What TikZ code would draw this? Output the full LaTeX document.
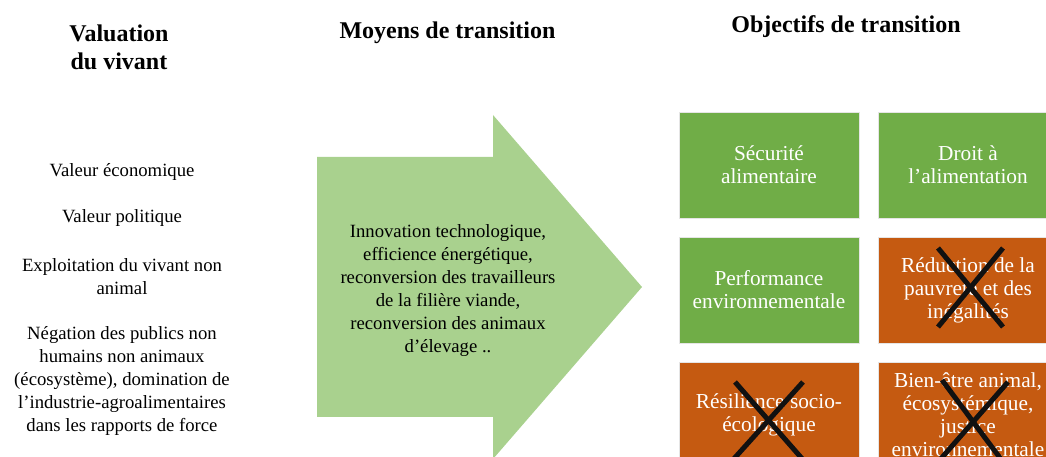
\documentclass[tikz,border=0pt]{standalone}
\usepackage{fontspec}
\setmainfont{Liberation Serif}
\definecolor{boxgreen}{HTML}{70AD47}
\definecolor{boxorange}{HTML}{C55A11}
\definecolor{arrowgreen}{HTML}{A9D18E}
\definecolor{crossink}{HTML}{111111}
\tikzset{
  heading/.style={inner sep=0pt, align=center, font=\fontsize{24bp}{28bp}\selectfont\bfseries},
  plain/.style={inner sep=0pt, align=center, font=\fontsize{18.7bp}{23bp}\selectfont},
  goal/.style={minimum width=180bp, minimum height=106bp, inner sep=0pt, align=center,
    text=white, draw=white!80!gray, line width=0.6bp, font=\fontsize{21.3bp}{23bp}\selectfont},
  goalok/.style={goal, fill=boxgreen},
  goalko/.style={goal, fill=boxorange},
  crossline/.style={draw=crossink, line width=5bp}
}
\begin{document}
\begin{tikzpicture}[x=1bp,y=-1bp]
\useasboundingbox (0,0) rectangle (1046,457);
\clip (0,0) rectangle (1046,457);
% headings
\node[heading] (h1) at (119,47) {Valuation\\du vivant};
\node[heading] (h2) at (447.5,33) {Moyens de transition};
\node[heading] (h3) at (846,27) {Objectifs de transition};
% left column
\node[plain] (v1) at (122,172) {Valeur économique};
\node[plain] (v2) at (122,218) {Valeur politique};
\node[plain] (v3) at (122,277) {Exploitation du vivant non\\animal};
\node[plain] (v4) at (122,381) {Négation des publics non\\humains non animaux\\(écosystème), domination de\\l’industrie-agroalimentaires\\dans les rapports de force};
% arrow
\coordinate (a1) at (317,157);
\coordinate (a2) at (493,157);
\coordinate (a3) at (493,115);
\coordinate (a4) at (642,287);
\coordinate (a5) at (493,459);
\coordinate (a6) at (493,417);
\coordinate (a7) at (317,417);
\fill[arrowgreen] (a1) -- (a2) -- (a3) -- (a4) -- (a5) -- (a6) -- (a7) -- cycle;
\node[plain] (m) at (448,291) {Innovation technologique,\\efficience énergétique,\\reconversion des travailleurs\\de la filière viande,\\reconversion des animaux\\d’élevage ..};
% goals
\node[goalok] (g1) at (769,165) {Sécurité\\alimentaire};
\node[goalok] (g2) at (968,165) {Droit à\\l’alimentation};
\node[goalok] (g3) at (769,290) {Performance\\environnementale};
\node[goalko] (g4) at (968,290) {Réduction de la\\pauvreté et des\\inégalités};
\node[goalko] (g5) at (769,415) {Résilience socio-\\écologique};
\node[goalko] (g6) at (968,415) {Bien-être animal,\\écosystémique,\\justice\\environnementale};
% crosses
\draw[crossline] (938,248) -- (1003,327);
\draw[crossline] (1003,248) -- (938,327);
\draw[crossline] (735,382) -- (805,462);
\draw[crossline] (803,382) -- (731,462);
\draw[crossline] (942,380) -- (1006,466);
\draw[crossline] (1008,382) -- (938,462);
\end{tikzpicture}
\end{document}
